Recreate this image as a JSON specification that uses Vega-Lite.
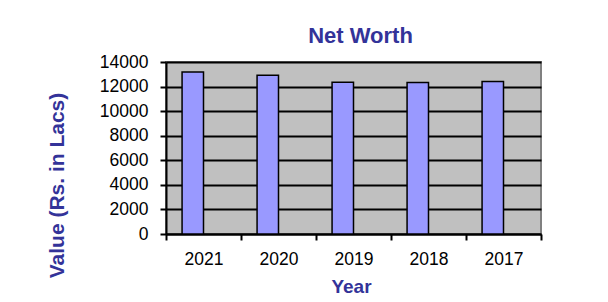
{
  "$schema": "https://vega.github.io/schema/vega-lite/v6.json",
  "autosize": "none",
  "width": 375,
  "height": 172,
  "padding": {"left": 166, "top": 62, "right": 67, "bottom": 68},
  "background": "white",
  "title": {
    "text": "Net Worth",
    "font": "Liberation Sans",
    "fontSize": 22,
    "fontWeight": "bold",
    "color": "#333399",
    "anchor": "middle",
    "frame": "group",
    "baseline": "alphabetic",
    "offset": -12,
    "dx": 7
  },
  "data": {
    "values": [
      {"Year": "2021", "Series": "Net Worth", "Value": 13190},
      {"Year": "2020", "Series": "Net Worth", "Value": 12920},
      {"Year": "2019", "Series": "Net Worth", "Value": 12350},
      {"Year": "2018", "Series": "Net Worth", "Value": 12330},
      {"Year": "2017", "Series": "Net Worth", "Value": 12410}
    ]
  },
  "mark": {"type": "bar", "fill": "#9999FF", "stroke": "black", "strokeWidth": 1.5},
  "encoding": {
    "x": {
      "field": "Year",
      "type": "nominal",
      "sort": null,
      "scale": {"paddingInner": 0, "paddingOuter": 0},
      "axis": {
        "title": "Year",
        "titleFont": "Liberation Sans",
        "titleFontSize": 19,
        "titleFontWeight": "bold",
        "titleColor": "#333399",
        "titleX": 185,
        "titleY": 58,
        "titleBaseline": "alphabetic",
        "titleAlign": "center",
        "labelAngle": 0,
        "labelFont": "Liberation Sans",
        "labelFontSize": 17.5,
        "labelColor": "black",
        "labelPadding": 10,
        "tickBand": "extent",
        "tickColor": "black",
        "tickWidth": 2,
        "tickSize": 6,
        "domainColor": "black",
        "domainWidth": 2,
        "grid": false
      }
    },
    "xOffset": {
      "field": "Series",
      "type": "nominal",
      "scale": {"domain": ["Net Worth", "Blank"], "paddingInner": 0, "paddingOuter": 0.75}
    },
    "y": {
      "field": "Value",
      "type": "quantitative",
      "scale": {"domain": [0, 14000], "nice": false},
      "axis": {
        "title": "Value (Rs. in Lacs)",
        "titleFont": "Liberation Sans",
        "titleFontSize": 21,
        "titleFontWeight": "bold",
        "titleColor": "#333399",
        "titleX": -109,
        "titleY": 123,
        "titleAngle": -90,
        "titleAlign": "center",
        "titleBaseline": "middle",
        "values": [0, 2000, 4000, 6000, 8000, 10000, 12000, 14000],
        "format": "d",
        "labelFont": "Liberation Sans",
        "labelFontSize": 17.5,
        "labelColor": "black",
        "labelPadding": 12,
        "labelBaseline": "middle",
        "tickColor": "black",
        "tickWidth": 2,
        "tickSize": 6,
        "domainColor": "black",
        "domainWidth": 2,
        "grid": true,
        "gridColor": "black",
        "gridWidth": 2
      }
    }
  },
  "config": {
    "view": {"fill": "#C0C0C0", "stroke": "#808080", "strokeWidth": 2}
  }
}
